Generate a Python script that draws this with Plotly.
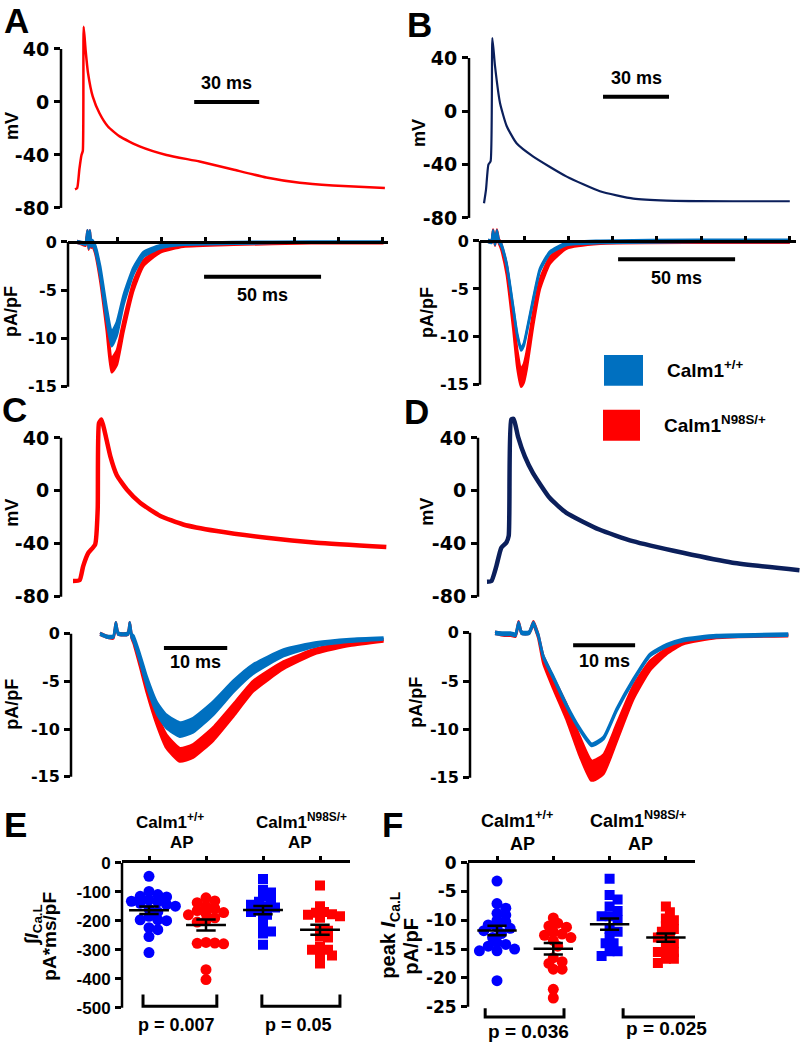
import plotly.graph_objects as go

W, H = 800, 1042

# ---------------- DATA ----------------
# Action potentials (time ms, membrane potential mV)
AP_A_T = [0, 1, 2, 3, 3.6, 4.0, 4.9, 6, 8.2, 11.3, 15.2, 20.6, 29.8, 42.2, 57.5, 72.9, 88.3, 103.7, 119, 143]
AP_A_V = [-66, -65, -51, -40, -37, 56.8, 39, 22, 4, -8.5, -18.5, -26, -33.5, -40, -45, -51, -57, -61, -63, -65]

AP_B_T = [0, 0.9, 2, 3.0, 3.8, 5, 7.3, 10.3, 14.8, 22.4, 37.6, 52.7, 67.9, 83, 113, 139]
AP_B_V = [-69, -59, -40, -37.5, 55, 34, 6, -11, -24, -34, -49, -60, -65.5, -67, -67.5, -67.5]

AP_C_T = [0, 1.05, 1.6, 2.4, 3.5, 3.9, 4.1, 4.5, 5.05, 5.9, 6.9, 8.5, 10.6, 13.8, 17.4, 22.7, 30.6, 38.5, 49.5]
AP_C_V = [-68, -67.4, -57, -47, -40.5, -14, 51, 53.8, 43.8, 26, 12, 1, -9, -19, -25.4, -30.4, -35.5, -39.2, -42.5]

AP_D_T = [0, 0.7, 1.5, 2.3, 3.1, 3.5, 3.9, 4.3, 5, 6.1, 7.4, 10.1, 12.8, 18.1, 23.5, 31.6, 39.6, 50.4]
AP_D_V = [-68.7, -68.2, -57, -43, -39.2, -34, 53.8, 54.3, 41, 26, 13.6, -5.3, -16.6, -29.2, -38, -46.8, -54.3, -59.9]

# L-type Ca currents (pA/pF), mean and SEM
CUR_A_T = [0, 2, 3.6, 4.5, 5.0, 5.5, 6.0, 6.5, 7.7, 9.9, 12.7, 14.8, 17.0, 19.9, 24.1, 28.4, 35.5, 45.4, 66.8, 100, 131]
CUR_A_WT = [0, -0.1, -0.2, 1.0, -0.5, 1.0, -0.3, 0, -0.6, -3.0, -7.5, -10.05, -9.0, -6.0, -3.0, -1.3, -0.5, -0.2, -0.1, 0, 0]
CUR_A_WT_SEM = [0.1, 0.1, 0.1, 0.2, 0.2, 0.2, 0.2, 0.2, 0.3, 0.5, 0.7, 0.75, 0.7, 0.5, 0.35, 0.25, 0.15, 0.1, 0.1, 0.05, 0.05]
CUR_A_MUT = [0, -0.15, -0.3, 1.0, -0.6, 1.0, -0.4, -0.2, -0.8, -3.5, -8.5, -12.75, -12.0, -8.7, -4.6, -2.2, -0.9, -0.4, -0.2, -0.1, -0.1]
CUR_A_MUT_SEM = [0.1, 0.1, 0.1, 0.2, 0.2, 0.2, 0.2, 0.2, 0.3, 0.5, 0.7, 0.75, 0.75, 0.6, 0.45, 0.3, 0.2, 0.1, 0.1, 0.05, 0.05]

CUR_B_T = [0, 1.5, 2.2, 3.0, 3.8, 4.6, 5.4, 5.8, 8.0, 10.8, 12.5, 14.1, 15.3, 16.5, 19.4, 22.2, 26.5, 33.6, 47.9, 90, 129]
CUR_B_WT = [0, -0.1, 1.0, -0.3, 1.0, 0, -0.3, -0.5, -2.5, -7.0, -9.8, -11.3, -10.8, -9.5, -6.0, -3.0, -1.2, -0.3, -0.1, 0, 0]
CUR_B_WT_SEM = [0.12] * 21
CUR_B_MUT = [0, -0.1, 1.0, -0.3, 1.0, 0, -0.4, -0.7, -3.0, -8.5, -12.3, -14.25, -13.8, -12.5, -8.0, -4.5, -2.0, -0.6, -0.2, -0.1, -0.1]
CUR_B_MUT_SEM = [0.1, 0.1, 0.2, 0.2, 0.2, 0.2, 0.3, 0.3, 0.5, 0.7, 0.9, 0.95, 0.95, 0.9, 0.7, 0.5, 0.35, 0.2, 0.1, 0.1, 0.1]

CUR_C_T = [0, 1.05, 2.1, 2.5, 2.9, 4.4, 4.7, 5.0, 5.3, 6.3, 7.4, 9.0, 10.5, 12.6, 14.7, 17.9, 21.1, 24.2, 29.0, 34.2, 39.5, 44.8]
CUR_C_WT = [0, -0.3, -0.3, 1.0, 0, 0, 1.0, -0.2, -0.5, -2.5, -5.0, -7.8, -9.2, -10.05, -9.6, -7.8, -5.5, -3.7, -2.0, -1.1, -0.7, -0.5]
CUR_C_WT_SEM = [0.1, 0.1, 0.1, 0.2, 0.1, 0.1, 0.2, 0.2, 0.3, 0.4, 0.5, 0.6, 0.7, 0.75, 0.75, 0.7, 0.6, 0.5, 0.35, 0.2, 0.15, 0.1]
CUR_C_MUT = [0, -0.3, -0.4, 1.0, 0, 0, 1.0, -0.3, -0.7, -3.0, -5.7, -9.0, -11.3, -12.7, -12.3, -10.5, -8.0, -5.5, -3.3, -1.8, -1.1, -0.7]
CUR_C_MUT_SEM = [0.1, 0.1, 0.1, 0.2, 0.1, 0.1, 0.2, 0.2, 0.3, 0.4, 0.5, 0.6, 0.7, 0.7, 0.7, 0.7, 0.65, 0.55, 0.4, 0.25, 0.15, 0.1]

CUR_D_T = [0, 1.5, 2.5, 3.3, 3.8, 4.3, 5.5, 6.2, 6.7, 7.0, 7.8, 9.4, 11.6, 13.7, 15.6, 17.5, 19.6, 22.3, 25.0, 27.7, 30.3, 35.7, 47.3]
CUR_D_WT = [0, -0.1, -0.1, -0.2, 1.0, 0, 0, 1.0, 0.2, -0.3, -2.5, -4.6, -7.6, -10.0, -11.6, -10.9, -8.0, -4.9, -2.3, -1.3, -0.75, -0.35, -0.2]
CUR_D_WT_SEM = [0.12] * 23
CUR_D_MUT = [0, -0.2, -0.2, -0.3, 1.0, 0, 0, 1.0, 0.2, -0.4, -2.8, -5.2, -8.3, -11.8, -14.3, -13.6, -10.4, -6.2, -3.4, -1.9, -1.0, -0.45, -0.25]
CUR_D_MUT_SEM = [0.1, 0.1, 0.1, 0.1, 0.2, 0.1, 0.1, 0.2, 0.2, 0.2, 0.4, 0.6, 0.8, 1.0, 1.05, 1.0, 0.9, 0.7, 0.5, 0.3, 0.2, 0.1, 0.1]

# Panel E: integrated I_Ca,L (pA*ms/pF)
E_WT_WTAP = [-47, -99, -110, -116, -118, -128, -133, -135, -140, -145, -150, -160, -170, -185, -197, -197, -200, -224, -231, -255, -310]
E_MUT_WTAP = [-121, -132, -138, -150, -158, -165, -172, -175, -180, -190, -200, -205, -275, -277, -278, -280, -369, -403]
E_WT_MUTAP = [-56, -93, -103, -116, -130, -135, -145, -150, -155, -165, -170, -180, -197, -222, -237, -244, -283]
E_MUT_MUTAP = [-79, -150, -170, -173, -178, -180, -185, -190, -230, -235, -255, -258, -290, -300, -300, -318, -320, -348]
# Panel F: peak I_Ca,L (pA/pF)
F_WT_WTAP = [-3.2, -7.1, -7.9, -8.8, -9.1, -10.0, -10.3, -10.8, -11.2, -11.4, -11.8, -12.3, -13.0, -13.9, -14.2, -14.5, -15.0, -15.3, -15.3, -20.5]
F_MUT_WTAP = [-9.6, -10.5, -11.0, -11.2, -12.0, -12.4, -12.6, -13.0, -13.5, -14.5, -16.5, -17.2, -17.5, -18.5, -18.5, -22.0, -23.5]
F_WT_MUTAP = [-2.8, -5.6, -6.4, -7.6, -8.4, -9.3, -9.3, -10.0, -11.5, -12.0, -13.0, -14.0, -14.0, -15.4, -15.4, -16.2]
F_MUT_MUTAP = [-7.6, -8.6, -9.7, -10.0, -11.0, -11.5, -12.0, -12.5, -13.0, -14.0, -14.0, -15.5, -15.5, -15.5, -16.7, -16.7, -17.4]

AP_TICKS = [40, 0, -40, -80]
CUR_TICKS = [0, -5, -10, -15]
E_TICKS = [0, -100, -200, -300, -400, -500]
F_TICKS = [0, -5, -10, -15, -20, -25]
E_PVALS = ["p = 0.007", "p = 0.05"]
F_PVALS = ["p = 0.036", "p = 0.025"]
LEGEND_LABELS = ["Calm1<sup>+/+</sup>", "Calm1<sup>N98S/+</sup>"]
SCALE_AP = 30   # ms
SCALE_CUR_AB = 50
SCALE_CUR_CD = 10

# ---------------- STYLE ----------------
RED = '#FF0000'
CUR_BLUE = '#0070C0'
NAVY = '#0B1F5B'
DOT_BLUE = '#0000FF'
ARIAL = 'Liberation Sans'
DJV = 'DejaVu Sans'

# vertical calibration of the photographed page (reference px -> figure px)
Y_OFF, Y_SCALE = 10.0, 0.985


def R(py):
    return (py - Y_OFF) / Y_SCALE


fig = go.Figure()
layout = dict(width=W, height=H, margin=dict(l=0, r=0, t=0, b=0),
              paper_bgcolor='white', plot_bgcolor='rgba(0,0,0,0)', showlegend=False)
shapes, annotations = [], []


def font(size, family=ARIAL):
    return dict(family=family, size=size, color='black', weight='bold')


def panel(idx, xs, ys):
    pl, pr, p0, ppu = xs
    pt, pbot, pa, va, pb, vb = ys
    pt, pbot, pa, pb = R(pt), R(pbot), R(pa), R(pb)
    s = (vb - va) / (pb - pa)
    sp = '' if idx == 1 else str(idx)
    return dict(xref='x' + sp, yref='y' + sp, xn='xaxis' + sp, yn='yaxis' + sp,
                xr=[(pl - p0) / ppu, (pr - p0) / ppu],
                yr=[va + (pbot - pa) * s, va + (pt - pa) * s],
                xd=[pl / W, pr / W], yd=[1 - pbot / H, 1 - pt / H])


def paper_y_of(p, v):
    r0, r1 = p['yr']
    d0, d1 = p['yd']
    return d0 + (v - r0) / (r1 - r0) * (d1 - d0)


def yaxis(p, ticks, tf, ticklen=6):
    layout[p['yn']] = dict(domain=p['yd'], range=p['yr'], anchor=p['xref'], showline=False,
                           ticks='outside', ticklen=ticklen, tickwidth=2.5, tickcolor='black',
                           tickvals=ticks, ticktext=[str(t) for t in ticks], tickfont=tf,
                           showgrid=False, zeroline=False, ticklabelstandoff=1)
    shapes.append(dict(type='line', xref='paper', yref=p['yref'], x0=p['xd'][0], x1=p['xd'][0],
                       y0=min(ticks), y1=max(ticks), line=dict(color='black', width=2.5)))


def xaxis_hidden(p):
    layout[p['xn']] = dict(domain=p['xd'], range=p['xr'], anchor=p['yref'], visible=False)


def line_trace(p, t, v, color, width):
    fig.add_trace(go.Scatter(x=t, y=v, mode='lines', xaxis=p['xref'], yaxis=p['yref'],
                             line=dict(color=color, width=width, shape='spline', smoothing=0.5),
                             hoverinfo='skip'))


def band(p, t, m, s, color):
    up = [a + b for a, b in zip(m, s)]
    lo = [a - b for a, b in zip(m, s)]
    ln = dict(color=color, width=2.5, shape='spline', smoothing=0.5)
    fig.add_trace(go.Scatter(x=t, y=up, mode='lines', line=ln, xaxis=p['xref'], yaxis=p['yref'], hoverinfo='skip'))
    fig.add_trace(go.Scatter(x=t, y=lo, mode='lines', line=ln, fill='tonexty', fillcolor=color,
                             xaxis=p['xref'], yaxis=p['yref'], hoverinfo='skip'))


def ann(px, py, text, size, family=ARIAL, angle=0, xanchor='center', yanchor='middle'):
    annotations.append(dict(x=px / W, y=1 - R(py) / H, xref='paper', yref='paper', text=text,
                            showarrow=False, textangle=angle, xanchor=xanchor, yanchor=yanchor,
                            font=font(size, family)))


def scalebar(p, t0, length, v, label_py, size=18):
    shapes.append(dict(type='line', xref=p['xref'], yref=p['yref'], x0=t0, x1=t0 + length,
                       y0=v, y1=v, line=dict(color='black', width=4)))
    annotations.append(dict(x=t0 + length / 2, xref=p['xref'], y=1 - R(label_py) / H, yref='paper',
                            xanchor='center', yanchor='middle',
                            text=f"{length} ms", showarrow=False, font=font(size)))


# ---------- panels A-D ----------
pA = panel(1, (61, 392, 75, 2.167), (20, 214, 49, 40, 208, -80))
pAc = panel(2, (68, 388, 77, 2.34), (228, 392, 242, 0, 387, -15))
pB = panel(3, (469, 796, 484, 2.2), (28, 224, 58, 40, 218, -80))
pBc = panel(4, (480, 796, 488, 2.34), (228, 390, 241, 0, 385, -15))
pC = panel(5, (61, 392, 73, 6.33), (405, 603, 438, 40, 597, -80))
pCc = panel(6, (71, 392, 100, 6.33), (620, 782, 634, 0, 777, -15))
pD = panel(7, (478, 800, 487, 6.2), (405, 603, 438, 40, 597, -80))
pDc = panel(8, (470, 800, 495, 6.2), (620, 782, 633, 0, 778, -15))

for p in (pA, pB, pC, pD):
    xaxis_hidden(p)
    yaxis(p, AP_TICKS, font(19, DJV))
for p in (pAc, pBc, pCc, pDc):
    yaxis(p, CUR_TICKS, font(16, DJV))
for p in (pCc, pDc):
    xaxis_hidden(p)
# zero-line axes with upward ticks for A/B currents
for p, t0 in ((pAc, 17.1), (pBc, 15.4)):
    dt = 18.93
    layout[p['xn']] = dict(domain=p['xd'], range=p['xr'], anchor='free', position=paper_y_of(p, 0),
                           side='top', showline=True, linewidth=2.5, linecolor='black',
                           ticks='outside', ticklen=4, tickwidth=2.5, tickcolor='black',
                           tickvals=[t0 + dt * k for k in range(7)], showticklabels=False,
                           showgrid=False, zeroline=False)

line_trace(pA, AP_A_T, AP_A_V, RED, 2.5)
line_trace(pB, AP_B_T, AP_B_V, NAVY, 2.2)
line_trace(pC, AP_C_T, AP_C_V, RED, 4.5)
line_trace(pD, AP_D_T, AP_D_V, NAVY, 4.5)

band(pAc, CUR_A_T, CUR_A_MUT, CUR_A_MUT_SEM, RED)
band(pAc, CUR_A_T, CUR_A_WT, CUR_A_WT_SEM, CUR_BLUE)
band(pBc, CUR_B_T, CUR_B_MUT, CUR_B_MUT_SEM, RED)
band(pBc, CUR_B_T, CUR_B_WT, CUR_B_WT_SEM, CUR_BLUE)
band(pCc, CUR_C_T, CUR_C_MUT, CUR_C_MUT_SEM, RED)
band(pCc, CUR_C_T, CUR_C_WT, CUR_C_WT_SEM, CUR_BLUE)
band(pDc, CUR_D_T, CUR_D_MUT, CUR_D_MUT_SEM, RED)
band(pDc, CUR_D_T, CUR_D_WT, CUR_D_WT_SEM, CUR_BLUE)

scalebar(pA, 55, SCALE_AP, 0, 83, 18)
scalebar(pB, 54.1, SCALE_AP, 11, 78, 18)
scalebar(pAc, 54.3, SCALE_CUR_AB, -3.6, 295)
scalebar(pBc, 55.6, SCALE_CUR_AB, -1.9, 278)
scalebar(pCc, 10.1, SCALE_CUR_CD, -1.5, 662)
scalebar(pDc, 12.6, SCALE_CUR_CD, -1.3, 661)

# axis titles A-D
for (px, py) in ((12, 126), (419, 133), (12, 513), (427, 512)):
    ann(px, py, "mV", 18, angle=-90)
for (px, py) in ((11, 312), (427, 312), (12, 705), (416, 703)):
    ann(px, py, "pA/pF", 18, angle=-90)

# panel letters
for letter, px, py in (("A", 16, 21), ("B", 419, 25), ("C", 14, 410), ("D", 416, 412),
                       ("E", 15, 825), ("F", 392, 825)):
    ann(px, py, letter, 35)

# legend
for (x0, y0, x1, y1), col, lab, tx, ty in (((604, 355, 643, 386), CUR_BLUE, LEGEND_LABELS[0], 665, 369),
                                           ((603, 410, 640, 441), RED, LEGEND_LABELS[1], 662, 424)):
    shapes.append(dict(type='rect', xref='paper', yref='paper', x0=x0 / W, x1=x1 / W,
                       y0=1 - R(y1) / H, y1=1 - R(y0) / H, fillcolor=col, line=dict(width=0)))
    ann(tx, ty, lab, 19, xanchor='left')

# ---------- panels E, F ----------
pE = panel(9, (122, 350, 149, 57), (863, 1012, 863, 0, 1008, -500))
pF = panel(10, (468, 695, 497, 56.3), (863, 1022, 863, 0, 1007, -25))
yaxis(pE, E_TICKS, font(17))
yaxis(pF, F_TICKS, font(17, DJV))
for p in (pE, pF):
    layout[p['xn']] = dict(domain=p['xd'], range=p['xr'], anchor=p['yref'], side='top',
                           showline=True, linewidth=2.5, linecolor='black', ticks='outside',
                           ticklen=4, tickwidth=2.5, tickcolor='black', tickvals=[0, 1, 2, 3],
                           showticklabels=False, showgrid=False, zeroline=False)


def swarm(vals, ppy, ppx, diam):
    placed, offs = [], []
    order = [0]
    for k in range(1, 15):
        order += [k, -k]
    for v in vals:
        y = v * ppy
        x = 0
        for k in order:
            x = k * diam * 0.4
            if all((x - a) ** 2 + (y - b) ** 2 >= (0.62 * diam) ** 2 for a, b in placed):
                break
        placed.append((x, y))
        offs.append(x / ppx)
    return offs


def scatter_group(p, i, vals, color, symbol, size, ppy, ppx):
    sv = sorted(vals, reverse=True)
    offs = swarm(sv, ppy, ppx, size)
    fig.add_trace(go.Scatter(x=[i + o for o in offs], y=sv, mode='markers',
                             marker=dict(color=color, symbol=symbol, size=size, line=dict(width=0)),
                             xaxis=p['xref'], yaxis=p['yref'], hoverinfo='skip'))
    n = len(vals)
    m = sum(vals) / n
    sd = (sum((v - m) ** 2 for v in vals) / (n - 1)) ** 0.5
    se = sd / n ** 0.5
    xs = [i - 0.35, i + 0.35, None, i - 0.17, i + 0.17, None, i - 0.17, i + 0.17, None, i, i]
    ys = [m, m, None, m + se, m + se, None, m - se, m - se, None, m - se, m + se]
    fig.add_trace(go.Scatter(x=xs, y=ys, mode='lines', line=dict(color='black', width=2.5),
                             xaxis=p['xref'], yaxis=p['yref'], hoverinfo='skip'))


E_ppy, F_ppy = 0.29, 5.79
for i, (vals, col, sym) in enumerate(((E_WT_WTAP, DOT_BLUE, 'circle'), (E_MUT_WTAP, RED, 'circle'),
                                      (E_WT_MUTAP, DOT_BLUE, 'square'), (E_MUT_MUTAP, RED, 'square'))):
    scatter_group(pE, i, vals, col, sym, 11 if sym == 'circle' else 10, E_ppy, 57)
for i, (vals, col, sym) in enumerate(((F_WT_WTAP, DOT_BLUE, 'circle'), (F_MUT_WTAP, RED, 'circle'),
                                      (F_WT_MUTAP, DOT_BLUE, 'square'), (F_MUT_MUTAP, RED, 'square'))):
    scatter_group(pF, i, vals, col, sym, 11 if sym == 'circle' else 10, F_ppy, 56.3)

# brackets
for p, (a, b), (ytop, ybot) in ((pE, (-0.105, 1.19), (-455, -495)), (pE, (1.98, 3.35), (-455, -495)),
                                (pF, (-0.21, 1.19), (-25.3, -26.8)), (pF, (2.24, 3.57), (-25.3, -26.8))):
    shapes.append(dict(type='path', xref=p['xref'], yref=p['yref'],
                       path=f"M {a},{ytop} L {a},{ybot} L {b},{ybot} L {b},{ytop}",
                       line=dict(color='black', width=3)))

ann(176, 1025, E_PVALS[0], 18)
ann(298, 1025, E_PVALS[1], 18)
ann(528, 1032, F_PVALS[0], 19)
ann(666, 1029, F_PVALS[1], 19)

# group headers
ann(170, 821, LEGEND_LABELS[0], 17)
ann(182, 843, "AP", 17)
ann(301, 821, LEGEND_LABELS[1], 17)
ann(300, 843, "AP", 17)
ann(517, 820, LEGEND_LABELS[0], 18)
ann(522, 844, "AP", 18)
ann(638, 820, LEGEND_LABELS[1], 18)
ann(640, 844, "AP", 18)

# E/F y titles
ann(33, 926, "∫<i>I</i><sub>Ca.L</sub>", 19, angle=-90)
ann(50, 937, "pA*ms/pF", 19, angle=-90)
ann(390, 935, "peak <i>I</i><sub>Ca.L</sub>", 20, angle=-90)
ann(411, 947, "pA/pF", 20, angle=-90)

layout['shapes'] = shapes
layout['annotations'] = annotations
fig.update_layout(**layout)
fig.write_html("out.html", config={'displayModeBar': False},
               post_script="document.body.style.margin='0px';document.body.style.padding='0px';")
